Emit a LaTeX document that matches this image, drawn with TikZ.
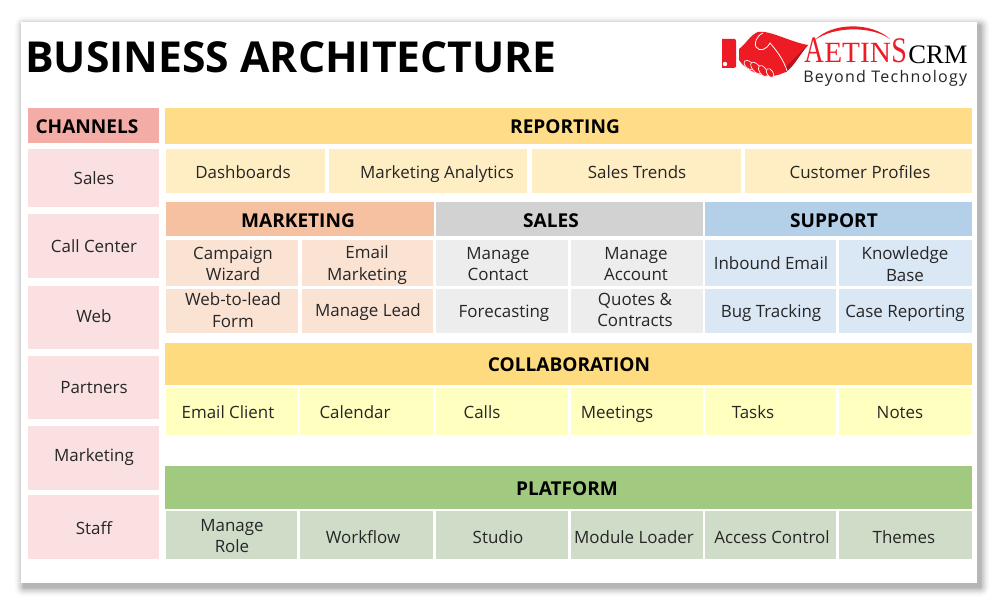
\documentclass[tikz,border=0pt]{standalone}
\usepackage{fontspec}
\setmainfont{Open Sans}
\newfontfamily\logofont{Liberation Serif}
\definecolor{chanhead}{HTML}{F4ACA6}
\definecolor{chancell}{HTML}{FAE0E0}
\definecolor{repohead}{HTML}{FFDD88}
\definecolor{repocell}{HTML}{FFEEC3}
\definecolor{markhead}{HTML}{F6C1A1}
\definecolor{markcell}{HTML}{FBE3D4}
\definecolor{salehead}{HTML}{D2D2D2}
\definecolor{salecell}{HTML}{EDEDED}
\definecolor{supphead}{HTML}{B4CFE8}
\definecolor{suppcell}{HTML}{DAE7F4}
\definecolor{collhead}{HTML}{FFDB7F}
\definecolor{collcell}{HTML}{FFFFBF}
\definecolor{plathead}{HTML}{A1CA80}
\definecolor{platcell}{HTML}{CFDDC8}
\definecolor{logored}{HTML}{ED1C24}
\definecolor{logodark}{HTML}{B5121B}
\definecolor{ink}{HTML}{262626}
\tikzset{
  cell/.style={inner sep=0.75pt,anchor=mid,yshift=-2.2pt,text=ink,font=\fontsize{12.7}{16}\selectfont},
  twoline/.style={inner sep=0.75pt,align=center,text=ink,font=\fontsize{12.7}{16}\selectfont},
  head/.style={inner sep=0.75pt,text=black,font=\fontsize{14.3}{16}\selectfont\bfseries},
  knuckle/.style={fill=logored,draw=white,line width=0.5pt},
}
\begin{document}
\begin{tikzpicture}[x=0.75pt,y=0.75pt,yscale=-1,xscale=1]
        \useasboundingbox (0,0) rectangle (1000,605);
        \foreach \s [evaluate=\s as \o using 0.006*(11-\s)] in {1,...,10} {
            \fill [black,opacity=\o,rounded corners=\s*0.75pt] (21+3-\s,22+4-\s) rectangle (977+3+\s,583+4+\s);
        }
        \fill [white] (21,22) rectangle (977,583);
        % title and logo
        \draw (24,57) node (title) [anchor=west][inner sep=0.75pt,font=\fontsize{32}{36}\selectfont\bfseries]    {BUSINESS ARCHITECTURE};
        \fill [logored] (722,39) -- (735,39) -- (736,41) -- (736,67) -- (734,68) -- (722,68) -- cycle ;
        \fill [white] (725,64) circle (2.2) ;
        \fill [logored] (739,49) .. controls (746,44) and (750,35) .. (758,32) .. controls (770,30) and (790,42) .. (808,45) .. controls (800,54) and (794,66) .. (786,72) -- (778,75) .. controls (768,78) and (752,74) .. (742,64) -- (739,60) -- cycle ;
        \fill [logodark] (808,45) .. controls (800,54) and (794,66) .. (786,72) -- (785,67) .. controls (792,62) and (800,52) .. cycle ;
        \draw [white,line width=0.6pt] (763,33) .. controls (756,36) and (754,44) .. (756,47) .. controls (760,52) and (766,50) .. (770,43) .. controls (776,50) and (784,60) .. (787,71) ;
        \draw [knuckle,rotate around={40:(749,65)}] (749,65) ellipse (6 and 3.4) ;
        \draw [knuckle,rotate around={50:(756,68)}] (756,68) ellipse (7 and 3.6) ;
        \draw [knuckle,rotate around={55:(763,71)}] (763,71) ellipse (6.5 and 3.4) ;
        \draw [knuckle,rotate around={55:(770,73)}] (770,73) ellipse (5 and 3) ;
        \fill [logored] (815,40) .. controls (832,22) and (872,22) .. (890,39) .. controls (872,26) and (834,26) .. (815,40) -- cycle ;
        \draw (804,63) node (logoa) [anchor=base west][inner sep=0pt,text=logored,font=\logofont\fontsize{28}{28}\selectfont]    {\scalebox{0.72}[1]{A}};
        \draw (824,63) node (logoetin) [anchor=base west][inner sep=0pt,text=logored,font=\logofont\fontsize{22}{22}\selectfont]    {ETIN};
        \draw (891,63) node (logos) [anchor=base west][inner sep=0pt,text=logored,font=\logofont\fontsize{27}{27}\selectfont]    {\scalebox{0.78}[1]{S}};
        \draw (908,64) node (logocrm) [anchor=base west][inner sep=0pt,text=black,font=\logofont\fontsize{20}{20}\selectfont]    {CRM};
        \draw (803,83) node (logotag) [anchor=base west][inner sep=0pt,text=ink,font=\fontsize{12}{12}\selectfont\addfontfeature{LetterSpace=8}]    {Beyond Technology};
        % channels
        \fill [chanhead] (28,108) rectangle (159,143);
        \foreach \a/\b in {149/207,214/278,286/349,356/419,426/490,495/559} {
            \fill [chancell] (28,\a) rectangle (159,\b);
        }
        \draw (87,127) node (channels) [head]    {CHANNELS};
        \draw (94,178) node (csales) [cell]    {Sales};
        \draw (94,246) node (ccall) [cell]    {Call Center};
        \draw (94,316) node (cweb) [cell]    {Web};
        \draw (94,387) node (cpartners) [cell]    {Partners};
        \draw (94,455) node (cmarketing) [cell]    {Marketing};
        \draw (94,528) node (cstaff) [cell]    {Staff};
        % reporting
        \fill [repohead] (165,108) rectangle (972,144);
        \foreach \a/\b in {166/325,329/527,532/741,745/972} {
            \fill [repocell] (\a,149) rectangle (\b,193);
        }
        \draw (565,127) node (reporting) [head]    {REPORTING};
        \draw (243,172) node (dash) [cell]    {Dashboards};
        \draw (437,172) node (analytics) [cell]    {Marketing Analytics};
        \draw (637,172) node (trends) [cell]    {Sales Trends};
        \draw (860,172) node (profiles) [cell]    {Customer Profiles};
        % marketing, sales, support
        \fill [markhead] (166,202) rectangle (434,236);
        \fill [salehead] (436,202) rectangle (703,236);
        \fill [supphead] (705,202) rectangle (972,236);
        \foreach \a/\b in {240/286,289/333} {
            \fill [markcell] (166,\a) rectangle (298,\b);
            \fill [markcell] (302,\a) rectangle (433,\b);
            \fill [salecell] (436,\a) rectangle (568,\b);
            \fill [salecell] (571,\a) rectangle (703,\b);
            \fill [suppcell] (705,\a) rectangle (836,\b);
            \fill [suppcell] (839,\a) rectangle (972,\b);
        }
        \draw (298,221) node (marketing) [head]    {MARKETING};
        \draw (551,221) node (sales) [head]    {SALES};
        \draw (834,221) node (support) [head]    {SUPPORT};
        \draw (233,264) node (wizard) [twoline]    {Campaign\\Wizard};
        \draw (367,265) node (emailm) [twoline]    {Email\\Marketing};
        \draw (233,310) node (webform) [twoline]    {Web-to-lead\\Form};
        \draw (368,310) node (lead) [cell]    {Manage Lead};
        \draw (498,264) node (contact) [twoline]    {Manage\\Contact};
        \draw (636,264) node (account) [twoline]    {Manage\\Account};
        \draw (504,311) node (forecast) [cell]    {Forecasting};
        \draw (635,310) node (quotes) [twoline]    {Quotes \&\\Contracts};
        \draw (771,263) node (inbound) [cell]    {Inbound Email};
        \draw (905,264) node (knowledge) [twoline]    {Knowledge\\Base};
        \draw (771,311) node (bug) [cell]    {Bug Tracking};
        \draw (905,311) node (casereport) [cell]    {Case Reporting};
        % collaboration
        \fill [collhead] (165,343) rectangle (972,385);
        \draw (569,365) node (collab) [head]    {COLLABORATION};
        \foreach \a/\b in {166/297,300/433,436/568,571/703,705/836,839/972} {
            \fill [collcell] (\a,388) rectangle (\b,435);
        }
        \draw (228,412) node (client) [cell]    {Email Client};
        \draw (355,412) node (calendar) [cell]    {Calendar};
        \draw (482,412) node (calls) [cell]    {Calls};
        \draw (617,412) node (meetings) [cell]    {Meetings};
        \draw (753,412) node (tasks) [cell]    {Tasks};
        \draw (900,412) node (notes) [cell]    {Notes};
        % platform
        \fill [plathead] (165,466) rectangle (972,509);
        \draw (567,489) node (platform) [head]    {PLATFORM};
        \foreach \a/\b in {166/297,300/433,436/568,571/703,705/836,839/972} {
            \fill [platcell] (\a,511) rectangle (\b,559);
        }
        \draw (232,536) node (role) [twoline]    {Manage\\Role};
        \draw (363,537) node (workflow) [cell]    {Workflow};
        \draw (498,537) node (studio) [cell]    {Studio};
        \draw (634,537) node (loader) [cell]    {Module Loader};
        \draw (772,537) node (access) [cell]    {Access Control};
        \draw (904,537) node (themes) [cell]    {Themes};
    \end{tikzpicture}
\end{document}
